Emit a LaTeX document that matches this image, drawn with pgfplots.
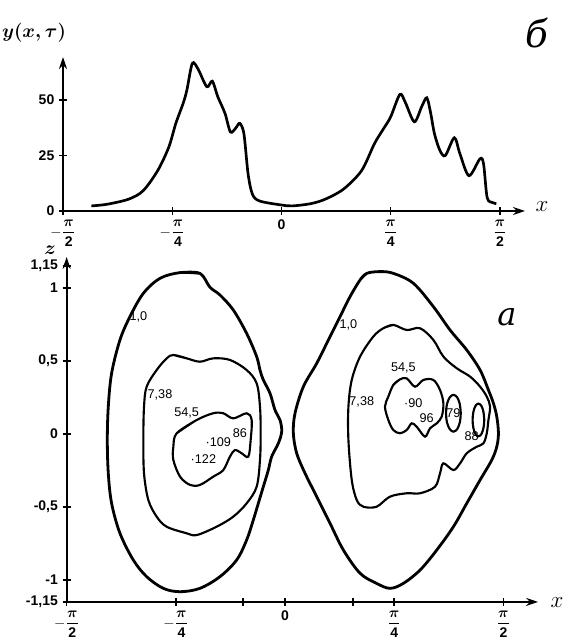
\documentclass[border=0pt]{standalone}
\usepackage{amsmath}
\usepackage{fontspec}
\setmainfont{Liberation Sans}
\newfontfamily\cyrserif{DejaVu Serif}
\usepackage{pgfplots}
\pgfplotsset{compat=1.18}
\usetikzlibrary{arrows.meta}

\pgfplotsset{
  sketch/.style={
    scale only axis, axis lines=left, clip=false,
    axis line style={line width=1.5pt},
    x axis line style={-{Stealth[length=9pt,width=6pt]}},
    y axis line style={-{Stealth[length=9pt,width=6pt]}},
    tick align=center, major tick length=6pt,
    every tick/.style={black, line width=1.1pt},
    tick label style={font=\fontsize{10.5}{12}\selectfont\bfseries},
    /pgf/number format/assume math mode=true,
  },
  outer/.style={black, line width=2.1pt, smooth, tension=0.55, no markers},
  inner/.style={black, line width=1.6pt, smooth, tension=0.55, no markers},
}
\tikzset{lbl/.style={font=\fontsize{9.5}{11}\selectfont, inner sep=1pt}}
\newcommand{\bpi}[2]{$#1\dfrac{\boldsymbol{\pi}}{\mathbf{#2}}$}

\begin{document}
\begin{tikzpicture}
\path[use as bounding box] (0,0) rectangle (426pt,480.75pt);

% part b: y(x,tau)
\begin{axis}[sketch, at={(47.25pt,322.5pt)}, anchor=south west,
  width=346.5pt, height=115.5pt,
  xmin=-1.5708, xmax=1.751, ymin=0, ymax=69.4,
  xtick={-1.5708,-0.7854,0,0.7854,1.5708},
  xticklabels={\bpi{-}{2},\bpi{-}{4},0,\bpi{}{4},\bpi{}{2}},
  ytick={0,25,50}, yticklabels={0,25,50}]
\addplot[black, line width=2pt, smooth, tension=0.5] coordinates {
  (-1.367,2.3) (-1.257,3.0) (-1.100,5.3) (-0.995,9.1) (-0.890,18.2)
  (-0.810,28.8) (-0.760,39.4) (-0.707,48.5) (-0.680,54.5) (-0.641,66.5)
  (-0.600,64.0) (-0.537,56.0) (-0.497,58.5) (-0.458,51.5) (-0.406,44.0)
  (-0.367,35.6) (-0.327,37.5) (-0.300,39.5) (-0.270,34.8) (-0.240,16.7)
  (-0.209,7.6) (-0.157,4.5) (0.000,2.7) (0.079,2.3) (0.210,3.3)
  (0.314,5.3) (0.445,9.8) (0.576,18.2) (0.668,30.3) (0.733,37.0)
  (0.785,42.4) (0.851,52.5) (0.890,49.0) (0.955,40.2) (1.008,47.0)
  (1.045,51.0) (1.073,44.0) (1.100,34.8) (1.139,27.3) (1.178,25.0)
  (1.243,33.0) (1.283,25.8) (1.348,15.9) (1.427,23.5) (1.453,21.2)
  (1.479,6.0) (1.518,3.8) (1.545,3.3)
};
\end{axis}

% part a: contours
\begin{axis}[sketch, at={(49.95pt,29.3pt)}, anchor=south west,
  width=353.6pt, height=258.7pt,
  xmin=-1.5708, xmax=1.820, ymin=-1.15, ymax=1.212,
  xtick={-1.5708,-0.7854,0,0.7854,1.5708},
  xticklabels={\bpi{-}{2},\bpi{-}{4},0,\bpi{}{4},\bpi{}{2}},
  extra x ticks={-0.302,0.489}, extra x tick labels={},
  ytick={-1.15,-1,-0.5,0,0.5,1,1.15},
  yticklabels={{-1,15},-1,{-0,5},0,{0,5},1,{1,15}}]
% left group
\addplot[outer] coordinates {
  (-0.755,1.105) (-0.612,1.100) (-0.540,1.005) (-0.468,0.952) (-0.372,0.849)
  (-0.276,0.689) (-0.204,0.530) (-0.180,0.438) (-0.156,0.370) (-0.108,0.279)
  (-0.072,0.164) (-0.036,0.096) (-0.024,0.016) (-0.048,-0.064) (-0.096,-0.155)
  (-0.120,-0.247) (-0.156,-0.361) (-0.192,-0.475) (-0.228,-0.589) (-0.276,-0.726)
  (-0.348,-0.863) (-0.468,-0.977) (-0.612,-1.057) (-0.755,-1.080) (-0.875,-1.057)
  (-0.995,-0.977) (-1.091,-0.863) (-1.187,-0.680) (-1.247,-0.475) (-1.271,-0.269)
  (-1.278,-0.041) (-1.271,0.187) (-1.247,0.416) (-1.187,0.644) (-1.115,0.804)
  (-1.019,0.963) (-0.899,1.066) (-0.755,1.105) (-0.612,1.100)
};
\addplot[inner] coordinates {
  (-0.803,0.541) (-0.707,0.518) (-0.612,0.495) (-0.516,0.518) (-0.396,0.507)
  (-0.276,0.438) (-0.204,0.347) (-0.180,0.187) (-0.175,0.005) (-0.180,-0.178)
  (-0.204,-0.361) (-0.276,-0.475) (-0.372,-0.566) (-0.492,-0.635) (-0.635,-0.692)
  (-0.707,-0.680) (-0.851,-0.635) (-0.923,-0.566) (-0.983,-0.452) (-1.014,-0.269)
  (-1.019,-0.041) (-1.014,0.187) (-0.995,0.324) (-0.923,0.438) (-0.851,0.518)
  (-0.803,0.541) (-0.707,0.518)
};
\addplot[inner] coordinates {
  (-0.779,0.005) (-0.635,0.096) (-0.516,0.142) (-0.444,0.142) (-0.372,0.107)
  (-0.276,0.142) (-0.240,0.096) (-0.247,-0.041) (-0.264,-0.155) (-0.312,-0.132)
  (-0.360,-0.110) (-0.396,-0.155) (-0.444,-0.247) (-0.516,-0.292) (-0.612,-0.349)
  (-0.683,-0.349) (-0.755,-0.292) (-0.803,-0.178) (-0.803,-0.087) (-0.779,0.005)
  (-0.635,0.096)
};
% right group
\addplot[outer] coordinates {
  (0.540,1.055) (0.588,1.100) (0.683,1.112) (0.779,1.100) (0.923,1.032)
  (1.067,0.872) (1.187,0.712) (1.307,0.575) (1.403,0.438) (1.463,0.301)
  (1.499,0.210) (1.523,0.119) (1.535,0.005) (1.523,-0.087) (1.487,-0.178)
  (1.403,-0.315) (1.307,-0.475) (1.211,-0.635) (1.091,-0.795) (0.971,-0.932)
  (0.851,-1.023) (0.755,-1.057) (0.659,-1.023) (0.540,-0.954) (0.420,-0.795)
  (0.324,-0.612) (0.228,-0.429) (0.144,-0.269) (0.084,-0.132) (0.060,0.005)
  (0.072,0.142) (0.132,0.324) (0.228,0.484) (0.324,0.667) (0.396,0.804)
  (0.468,0.941) (0.540,1.055) (0.588,1.100)
};
\addplot[inner] coordinates {
  (0.707,0.724) (0.779,0.747) (0.875,0.712) (0.971,0.724) (1.067,0.644)
  (1.139,0.530) (1.235,0.450) (1.331,0.393) (1.403,0.324) (1.451,0.256)
  (1.475,0.187) (1.463,0.096) (1.451,0.005) (1.427,-0.064) (1.379,-0.087)
  (1.307,-0.132) (1.259,-0.201) (1.211,-0.247) (1.139,-0.201) (1.115,-0.269)
  (1.079,-0.361) (0.971,-0.406) (0.875,-0.406) (0.755,-0.429) (0.659,-0.498)
  (0.564,-0.498) (0.516,-0.452) (0.480,-0.315) (0.456,-0.041) (0.456,0.187)
  (0.480,0.370) (0.540,0.530) (0.635,0.667) (0.707,0.724) (0.779,0.747)
};
\addplot[inner] coordinates {
  (0.779,0.336) (0.827,0.374) (0.875,0.381) (0.935,0.324) (0.995,0.370)
  (1.067,0.370) (1.115,0.301) (1.139,0.210) (1.127,0.119) (1.091,0.073)
  (1.043,0.039) (1.007,-0.018) (0.947,0.050) (0.911,0.073) (0.875,0.027)
  (0.827,0.005) (0.779,0.027) (0.743,0.096) (0.719,0.187) (0.743,0.256)
  (0.779,0.336) (0.827,0.374)
};
\addplot[inner] coordinates {
  (1.264,0.142) (1.257,0.205) (1.238,0.251) (1.211,0.268) (1.185,0.251)
  (1.165,0.205) (1.158,0.142) (1.165,0.079) (1.185,0.033) (1.211,0.016)
  (1.238,0.033) (1.257,0.079) (1.264,0.142) (1.257,0.205)
};
\addplot[inner] coordinates {
  (1.433,0.096) (1.427,0.152) (1.412,0.193) (1.391,0.208) (1.370,0.193)
  (1.355,0.152) (1.349,0.096) (1.355,0.040) (1.370,-0.001) (1.391,-0.016)
  (1.412,-0.001) (1.427,0.040) (1.433,0.096) (1.427,0.152)
};
% contour values
\node[lbl] at (axis cs:-1.055,0.804) {1,0};
\node[lbl] at (axis cs:-0.899,0.267) {7,38};
\node[lbl] at (axis cs:-0.707,0.142) {54,5};
\node[lbl] at (axis cs:-0.480,-0.057) {·109};
\node[lbl] at (axis cs:-0.587,-0.174) {·122};
\node[lbl] at (axis cs:-0.324,0.009) {86};
\node[lbl] at (axis cs:0.456,0.747) {1,0};
\node[lbl] at (axis cs:0.552,0.221) {7,38};
\node[lbl] at (axis cs:0.851,0.450) {54,5};
\node[lbl] at (axis cs:0.923,0.210) {·90};
\node[lbl] at (axis cs:1.019,0.107) {96};
\node[lbl] at (axis cs:1.211,0.142) {79};
\node[lbl] at (axis cs:1.343,-0.018) {88};
\end{axis}

% axis names and panel letters
\node at (25.5pt,456pt) {\fontsize{15}{17}\selectfont$\boldsymbol{y(x,\tau)}$};
\node at (402.75pt,456pt) {\fontsize{28}{30}\selectfont\cyrserif\itshape б};
\node at (406.5pt,325.5pt) {\fontsize{16}{18}\selectfont$x$};
\node at (37.5pt,293.25pt) {\fontsize{14}{16}\selectfont$\boldsymbol{z}$};
\node at (417.75pt,28.5pt) {\fontsize{16}{18}\selectfont$x$};
\node at (380.25pt,243pt) {\fontsize{24}{26}\selectfont\cyrserif\itshape а};
\end{tikzpicture}
\end{document}
